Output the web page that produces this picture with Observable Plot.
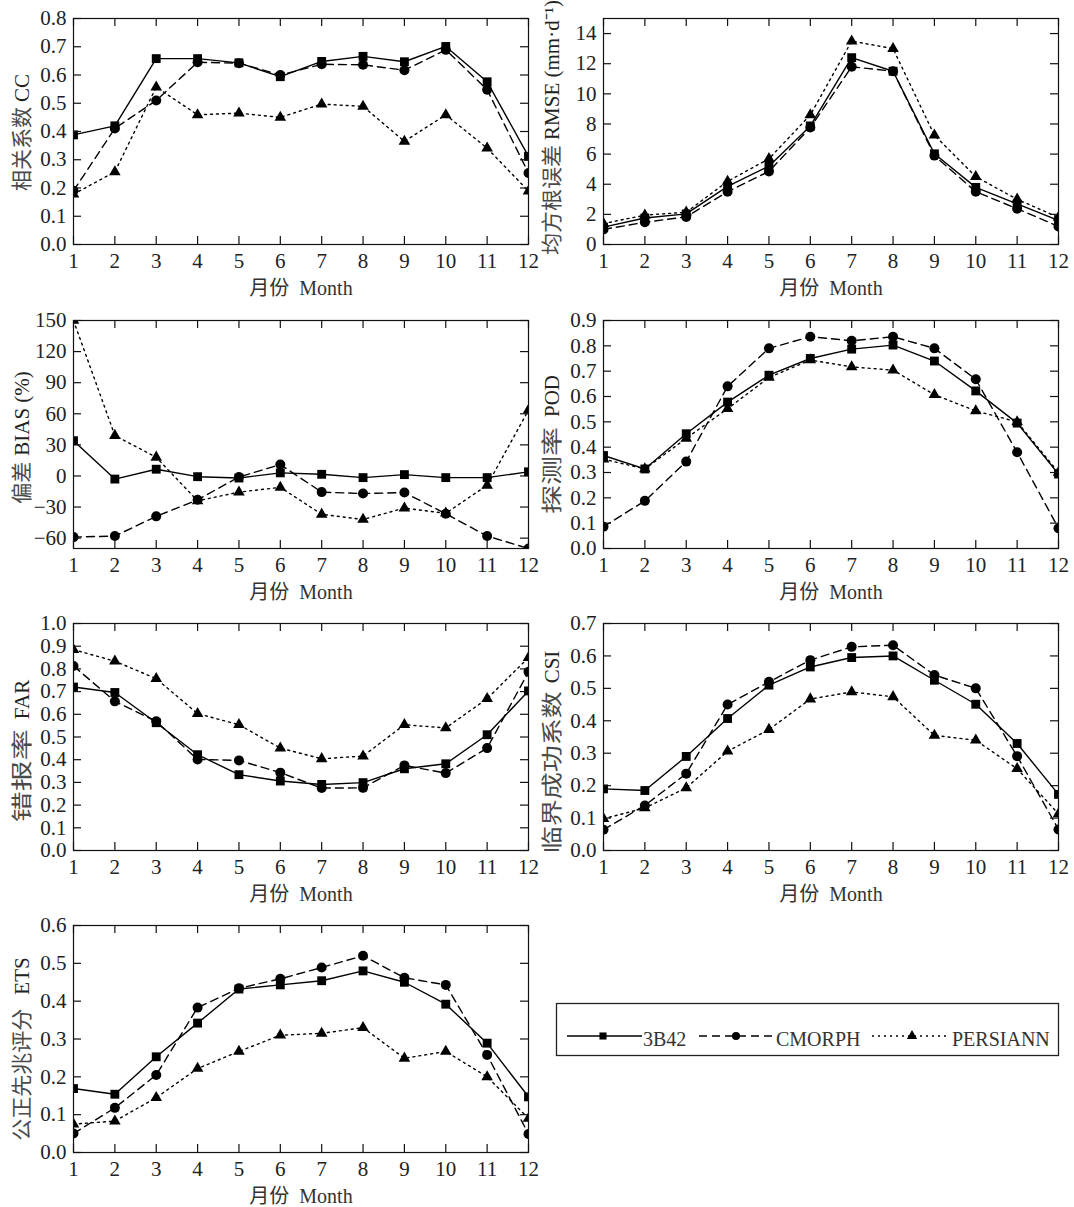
<!DOCTYPE html>
<html><head><meta charset="utf-8">
<script src="https://cdn.jsdelivr.net/npm/d3@7"></script>
<script src="https://cdn.jsdelivr.net/npm/@observablehq/plot@0.6"></script>
<style>
body{margin:0;background:#fff;}
#wrap{position:relative;width:1074px;height:1207px;background:#fff;overflow:hidden;}
#wrap svg{position:absolute;overflow:visible;}
</style></head><body><div id="wrap"></div>
<script>
// ---------------- data ----------------
const months = [1,2,3,4,5,6,7,8,9,10,11,12];
const seriesNames = ["3B42","CMORPH","PERSIANN"];
const xLabel = "月份\u00a0\u00a0Month";

const cc3B42     = [0.388,0.42,0.658,0.658,0.643,0.594,0.648,0.666,0.647,0.701,0.576,0.312];
const ccCMORPH   = [0.19,0.411,0.51,0.645,0.642,0.60,0.638,0.636,0.617,0.689,0.548,0.253];
const ccPERSIANN = [0.178,0.257,0.557,0.459,0.465,0.45,0.497,0.489,0.365,0.459,0.341,0.189];

const rmse3B42     = [1.15,1.76,2.03,3.86,5.2,7.87,12.4,11.5,6.02,3.79,2.69,1.59];
const rmseCMORPH   = [1.0,1.48,1.83,3.5,4.85,7.76,11.8,11.5,5.9,3.5,2.38,1.2];
const rmsePERSIANN = [1.39,1.95,2.14,4.19,5.69,8.6,13.5,13.0,7.25,4.5,3.0,1.8];

const bias3B42     = [34,-3,6.5,-0.7,-2,3,1.6,-1.6,1.3,-1.6,-1.6,4];
const biasCMORPH   = [-59,-58,-39,-23,-1,11,-15.6,-17,-16,-36.5,-58,-70];
const biasPERSIANN = [150,39,18,-24,-15.6,-11,-37,-42,-31,-36,-9,63.5];

const pod3B42     = [0.367,0.314,0.453,0.578,0.684,0.75,0.787,0.803,0.74,0.622,0.495,0.294];
const podCMORPH   = [0.086,0.188,0.343,0.64,0.79,0.836,0.82,0.836,0.79,0.668,0.38,0.08];
const podPERSIANN = [0.353,0.314,0.435,0.552,0.675,0.744,0.717,0.704,0.607,0.543,0.5,0.30];

const far3B42     = [0.72,0.696,0.563,0.422,0.334,0.306,0.291,0.299,0.36,0.382,0.51,0.703];
const farCMORPH   = [0.813,0.657,0.569,0.401,0.397,0.343,0.275,0.276,0.375,0.341,0.451,0.787];
const farPERSIANN = [0.885,0.834,0.757,0.603,0.554,0.451,0.404,0.416,0.554,0.54,0.669,0.85];

const csi3B42     = [0.19,0.185,0.29,0.407,0.51,0.566,0.595,0.60,0.525,0.451,0.33,0.173];
const csiCMORPH   = [0.064,0.139,0.237,0.45,0.52,0.587,0.628,0.633,0.541,0.50,0.291,0.065];
const csiPERSIANN = [0.098,0.131,0.193,0.306,0.373,0.467,0.489,0.474,0.355,0.34,0.252,0.113];

const ets3B42     = [0.169,0.154,0.253,0.342,0.432,0.443,0.454,0.48,0.45,0.392,0.289,0.147];
const etsCMORPH   = [0.05,0.118,0.205,0.383,0.434,0.459,0.489,0.52,0.462,0.443,0.258,0.049];
const etsPERSIANN = [0.075,0.083,0.145,0.222,0.267,0.31,0.315,0.33,0.249,0.267,0.2,0.09];

const ccTicks   = [0,0.1,0.2,0.3,0.4,0.5,0.6,0.7,0.8];
const rmseTicks = [0,2,4,6,8,10,12,14];
const biasTicks = [-60,-30,0,30,60,90,120,150];
const podTicks  = [0,0.1,0.2,0.3,0.4,0.5,0.6,0.7,0.8,0.9];
const farTicks  = [0,0.1,0.2,0.3,0.4,0.5,0.6,0.7,0.8,0.9,1.0];
const csiTicks  = [0,0.1,0.2,0.3,0.4,0.5,0.6,0.7];
const etsTicks  = [0,0.1,0.2,0.3,0.4,0.5,0.6];

const ccLabel   = ["相关系数", "CC"];
const rmseLabel = ["均方根误差", "RMSE (mm·d⁻¹)"];
const biasLabel = ["偏差", "BIAS (%)"];
const podLabel  = ["探测率", "POD"];
const farLabel  = ["错报率", "FAR"];
const csiLabel  = ["临界成功系数", "CSI"];
const etsLabel  = ["公正先兆评分", "ETS"];

// ---------------- styling ----------------
const FONT = "'Liberation Serif','Times New Roman','Noto Sans CJK SC',serif";
const dashes  = [null, "8,5", "2,4"];
const symbols = ["square","circle","triangle"];
const radii   = [5, 5, 4.3];
const f1 = d3.format(".1f");
const f0 = d3.format("d");

// pitch: advance per Chinese glyph in the original (glyphs are stretched there)
const panels = [
  {left:0,   top:0,   height:300, domain:[0,0.8],   ticks:ccTicks,   fmt:f1, label:ccLabel,   pitch:21, gap:5,  shift:1,  series:[cc3B42,ccCMORPH,ccPERSIANN]},
  {left:530, top:0,   height:300, domain:[0,15],    ticks:rmseTicks, fmt:f0, label:rmseLabel, pitch:22, gap:5,  shift:-4, series:[rmse3B42,rmseCMORPH,rmsePERSIANN]},
  {left:0,   top:302, height:302, domain:[-70,150], ticks:biasTicks, fmt:f0, label:biasLabel, pitch:21, gap:6,  shift:3,  series:[bias3B42,biasCMORPH,biasPERSIANN]},
  {left:530, top:302, height:302, domain:[0,0.9],   ticks:podTicks,  fmt:f1, label:podLabel,  pitch:29, gap:10, shift:10, series:[pod3B42,podCMORPH,podPERSIANN]},
  {left:0,   top:605, height:301, domain:[0,1.0],   ticks:farTicks,  fmt:f1, label:farLabel,  pitch:31, gap:10, shift:14, series:[far3B42,farCMORPH,farPERSIANN]},
  {left:530, top:605, height:301, domain:[0,0.7],   ticks:csiTicks,  fmt:f1, label:csiLabel,  pitch:27, gap:8,  shift:15, series:[csi3B42,csiCMORPH,csiPERSIANN]},
  {left:0,   top:907, height:301, domain:[0,0.6],   ticks:etsTicks,  fmt:f1, label:etsLabel,  pitch:22, gap:14, shift:10, series:[ets3B42,etsCMORPH,etsPERSIANN]}
];

const wrap = document.getElementById("wrap");

panels.forEach(p => {
  const W = 540, mL = 73, mR = 12, mT = 18, mB = 56;
  const innerW = W - mL - mR, innerH = p.height - mT - mB;
  const fullLabel = p.label[0] + " " + p.label[1];
  const marks = [];
  p.series.forEach((vals, i) => {
    const d = months.map((m, j) => ({month: m, value: vals[j], name: seriesNames[i]}));
    marks.push(Plot.line(d, {x: "month", y: "value", stroke: "#000", strokeWidth: 1.4,
      strokeDasharray: dashes[i], clip: true}));
  });
  p.series.forEach((vals, i) => {
    const d = months.map((m, j) => ({month: m, value: vals[j], name: seriesNames[i]}));
    marks.push(Plot.dot(d, {x: "month", y: "value", symbol: symbols[i], r: radii[i],
      fill: "#000", stroke: "none", clip: true}));
  });
  marks.push(Plot.frame({stroke: "#111", strokeWidth: 1.2}));
  marks.push(Plot.tickX(months, {x: d => d, insetTop: innerH - 8, stroke: "#111", strokeWidth: 1.2}));
  marks.push(Plot.tickX(months, {x: d => d, insetBottom: innerH - 8, stroke: "#111", strokeWidth: 1.2}));
  marks.push(Plot.tickY(p.ticks, {y: d => d, insetRight: innerW - 8, stroke: "#111", strokeWidth: 1.2}));
  marks.push(Plot.tickY(p.ticks, {y: d => d, insetLeft: innerW - 8, stroke: "#111", strokeWidth: 1.2}));
  marks.push(Plot.axisX(months, {tickSize: 0, tickPadding: 9, tickFormat: d => String(d), label: null, fill: "#222"}));
  marks.push(Plot.axisY(p.ticks, {tickSize: 0, tickPadding: 7, tickFormat: p.fmt, label: null, fill: "#222"}));
  marks.push(Plot.text([fullLabel], {text: d => d, frameAnchor: "left", rotate: -90, dx: -51, dy: p.shift,
    textAnchor: "middle", lineAnchor: "middle", fontSize: 21, fill: "#333"}));
  marks.push(Plot.text([xLabel], {text: d => d, frameAnchor: "bottom", dy: 44,
    textAnchor: "middle", lineAnchor: "middle", fontSize: 20, fill: "#333"}));

  const svg = Plot.plot({
    width: W, height: p.height,
    marginLeft: mL, marginRight: mR, marginTop: mT, marginBottom: mB,
    x: {domain: [1, 12]},
    y: {domain: p.domain},
    style: {fontFamily: FONT, fontSize: "21px", background: "transparent", overflow: "visible"},
    marks
  });
  // split the y label into Chinese and English runs (glyph stretch as in the original)
  d3.select(svg).selectAll("text").filter(function() { return this.textContent === fullLabel; })
    .each(function() {
      const t = d3.select(this);
      t.text(null);
      t.append("tspan").attr("fill", "#4a4a4a")
        .attr("textLength", p.label[0].length * p.pitch)
        .attr("lengthAdjust", "spacingAndGlyphs")
        .text(p.label[0]);
      t.append("tspan").attr("dx", p.gap).attr("fill", "#222").text(p.label[1]);
    });
  svg.style.left = p.left + "px";
  svg.style.top = p.top + "px";
  wrap.appendChild(svg);
});

// ---------------- legend ----------------
const leg = d3.select(wrap).append("svg")
  .attr("width", 520).attr("height", 66)
  .style("left", "550px").style("top", "998px");
leg.append("rect").attr("x", 6.5).attr("y", 5.5).attr("width", 502).attr("height", 52)
  .attr("fill", "#fff").attr("stroke", "#222").attr("stroke-width", 1.3);
const legItems = [
  {x1: 17, x2: 92, sx: 53, tx: 93},
  {x1: 149, x2: 224, sx: 186, tx: 226},
  {x1: 322, x2: 399, sx: 362, tx: 402}
];
seriesNames.forEach((name, i) => {
  const it = legItems[i], cy = 38;
  leg.append("line").attr("x1", it.x1).attr("x2", it.x2).attr("y1", cy).attr("y2", cy)
    .attr("stroke", "#000").attr("stroke-width", 1.3)
    .attr("stroke-dasharray", dashes[i] || null);
  const sym = [d3.symbolSquare, d3.symbolCircle, d3.symbolTriangle][i];
  const r = [4, 4, 3.8][i];
  leg.append("path").attr("d", d3.symbol(sym, Math.PI * r * r)())
    .attr("transform", `translate(${it.sx},${cy})`).attr("fill", "#000");
  leg.append("text").attr("x", it.tx).attr("y", cy + 10).text(name)
    .attr("font-family", FONT).attr("font-size", 20).attr("fill", "#333");
});
</script></body></html>
